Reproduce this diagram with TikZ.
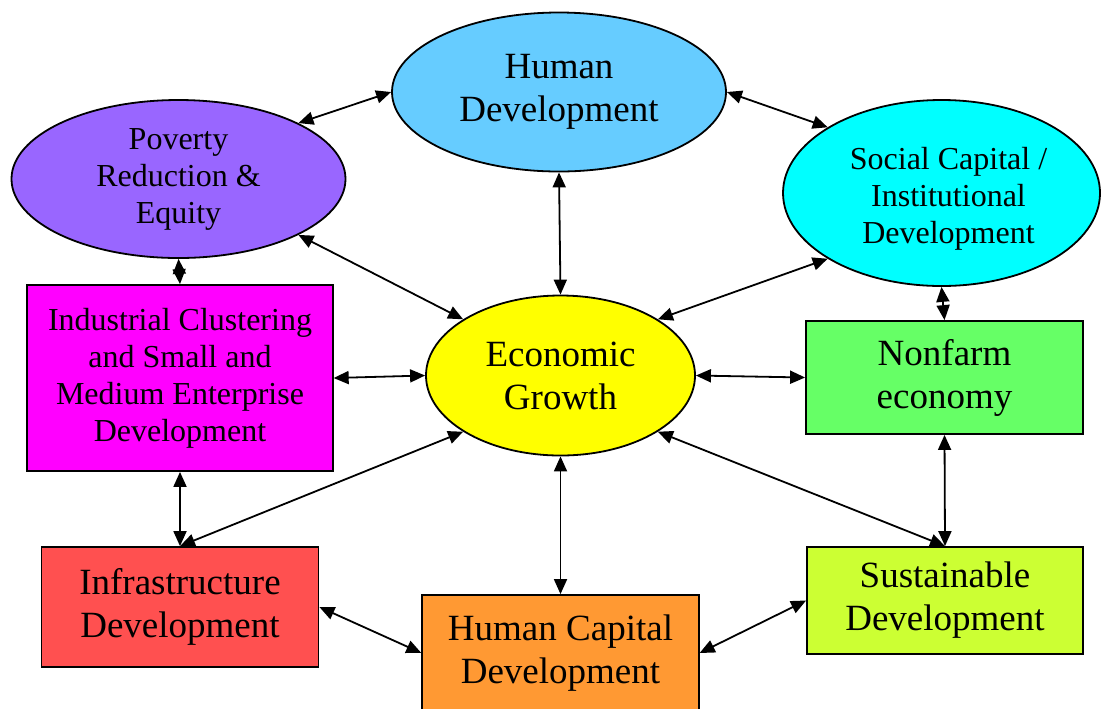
\documentclass[tikz,border=0pt]{standalone}
\usepackage{fontspec}
\setmainfont{Liberation Serif}
\usepackage{tikz}
\usetikzlibrary{shapes.geometric,arrows.meta}

\definecolor{hdblue}{HTML}{66CCFF}
\definecolor{povviolet}{HTML}{9966FF}
\definecolor{soccyan}{HTML}{00FFFF}
\definecolor{egyellow}{HTML}{FFFF00}
\definecolor{indmagenta}{HTML}{FF00FF}
\definecolor{nfgreen}{HTML}{66FF66}
\definecolor{infred}{HTML}{FF5050}
\definecolor{hcorange}{HTML}{FF9933}
\definecolor{sdlime}{HTML}{CCFF33}

\begin{document}
\begin{tikzpicture}[x=0.5pt,y=-0.5pt,
  blob/.style={ellipse,draw=black,line width=0.9pt,inner sep=0pt,align=center},
  panel/.style={rectangle,draw=black,line width=0.9pt,inner sep=0pt,align=center},
  big/.style={font=\fontsize{18.5}{21.5}\selectfont},
  small/.style={font=\fontsize{16}{18.5}\selectfont},
  link/.style={{Triangle[length=7.5pt,width=6.5pt]}-{Triangle[length=7.5pt,width=6.5pt]},line width=0.9pt}]
\useasboundingbox (0,0) rectangle (1101,708);
% ellipses
\node [blob,big,fill=hdblue,minimum width=167pt,minimum height=79.5pt] (hd) at (559,92) {Human\\Development};
\node [blob,small,fill=povviolet,minimum width=167pt,minimum height=79pt] (pov) at (178.5,179) {Poverty\\Reduction \&\\Equity};
\node [blob,fill=soccyan,minimum width=158.5pt,minimum height=93pt,
  label={[small,align=center,xshift=3.5pt,yshift=-3pt]center:Social Capital /\\Institutional\\Development}] (soc) at (941.5,193) {};
\node [blob,big,fill=egyellow,minimum width=134.5pt,minimum height=80pt] (eg) at (560.5,375.5) {Economic\\Growth};
% boxes
\node [panel,small,fill=indmagenta,minimum width=152.75pt,minimum height=93pt] (ind) at (180,378) {Industrial Clustering\\and Small and\\Medium Enterprise\\Development};
\node [panel,big,fill=nfgreen,minimum width=138.5pt,minimum height=56.5pt] (nf) at (944.5,377.5) {Nonfarm\\economy};
\node [panel,big,fill=infred,minimum width=138.5pt,minimum height=60pt] (inf) at (180,607) {Infrastructure\\Development};
\node [panel,big,fill=hcorange,minimum width=138.25pt,minimum height=58pt] (hc) at (560.5,653) {Human Capital\\Development};
\node [panel,big,fill=sdlime,minimum width=138pt,minimum height=53.5pt] (sd) at (945,600.5) {Sustainable\\Development};
% links
\draw [link] (pov.25) -- (hd.west);
\draw [link] (hd.east) -- (soc.150);
\draw [link] (hd.south) -- (eg.north);
\draw [link] (pov.-25) -- (eg.150);
\draw [link] (soc.210) -- (eg.30);
\draw [link] (pov.south) -- (ind.north);
\draw [link] (ind.east) -- (eg.west);
\draw [link] (eg.east) -- (nf.west);
\draw [link] (soc.south) -- (nf.north);
\draw [link] (ind.south) -- (inf.north);
\draw [link] (eg.210) -- (inf.north);
\draw [link] (eg.south) -- (hc.north);
\draw [link] (eg.-30) -- (sd.north);
\draw [link] (nf.south) -- (sd.north);
\draw [link] (inf.east) -- (hc.west);
\draw [link] (hc.east) -- (sd.west);
\end{tikzpicture}
\end{document}
